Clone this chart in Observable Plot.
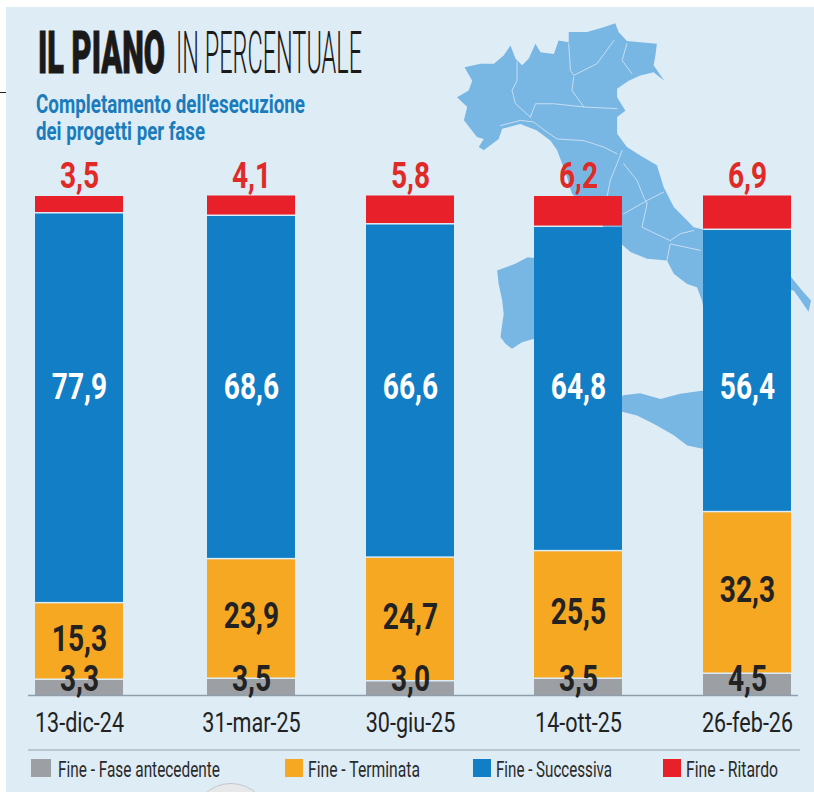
<!DOCTYPE html>
<html lang="it"><head><meta charset="utf-8">
<script src="https://cdn.jsdelivr.net/npm/d3@7"></script>
<script src="https://cdn.jsdelivr.net/npm/@observablehq/plot@0.6"></script>
<style>
html,body{margin:0;padding:0;background:#fff}
#page{position:relative;width:814px;height:792px;overflow:hidden;font-family:Roboto,"Liberation Sans",sans-serif}
#panel{position:absolute;left:6px;top:7px;right:0;bottom:0;background:#deecf6}
#tick{position:absolute;left:0;top:92px;width:6px;height:1px;background:#222}
#arc{position:absolute;left:192px;top:783px;width:78px;height:78px;border-radius:50%;background:#e6e8ea;border:1px solid #c4c8cc;box-sizing:border-box}
#map,#chart{position:absolute;left:0}
#map{top:0}
#chart{top:150px}
.fit{position:absolute;white-space:nowrap;transform-origin:left center;line-height:1}
#legend-rule{position:absolute;left:28px;width:772px;top:749px;height:2px;background:#b9c7d2}
.sw{position:absolute;top:759px;height:18px;width:20px}
svg{background:transparent;overflow:visible}
</style></head><body>
<div id="page">
  <div id="panel"></div><div id="tick"></div><div id="arc"></div>
  <div id="map"></div>
  <div class="fit" data-w="127" style="left:38px;top:23px;font-size:60px;font-weight:900;color:#1a1a1a;-webkit-text-stroke:1px #1a1a1a">IL PIANO</div>
  <div class="fit" data-w="186" style="left:176px;top:23px;font-size:60px;font-weight:300;color:#1a1a1a">IN PERCENTUALE</div>
  <div class="fit" data-w="269" style="left:36px;top:92px;font-size:25px;font-weight:700;color:#1a7cbc">Completamento dell'esecuzione</div>
  <div class="fit" data-w="169" style="left:36px;top:119px;font-size:25px;font-weight:700;color:#1a7cbc">dei progetti per fase</div>
  <div id="chart"></div>
  <div id="legend-rule"></div>
  <div id="legend"></div>
</div>
<script>
// Chart data
const dates = ["13-dic-24", "31-mar-25", "30-giu-25", "14-ott-25", "26-feb-26"];
const phases = ["Fine - Fase antecedente", "Fine - Terminata", "Fine - Successiva", "Fine - Ritardo"];
const phaseColors = ["#9c9fa4", "#f7a823", "#117ec6", "#e8202a"];
const antecedente = [3.3, 3.5, 3.0, 3.5, 4.5];
const terminata = [15.3, 23.9, 24.7, 25.5, 32.3];
const successiva = [77.9, 68.6, 66.6, 64.8, 56.4];
const ritardo = [3.5, 4.1, 5.8, 6.2, 6.9];

// Italy traced as [lon, lat]
const mainland = [[6.84,45.99],[7.38,46.08],[7.83,46.08],[8.16,46.28],[8.39,46.53],[8.56,46.20],[8.78,46.04],[9.00,46.20],[9.23,46.57],[9.40,46.36],[9.85,46.32],[10.01,46.65],[10.35,46.61],[10.35,46.86],[10.97,46.86],[11.53,46.98],[11.92,47.08],[12.03,46.86],[12.31,46.64],[13.32,46.57],[13.27,46.28],[13.21,46.04],[13.57,45.66],[13.21,45.87],[12.76,45.79],[12.37,45.66],[11.98,45.46],[11.98,45.25],[12.26,44.92],[11.98,44.76],[11.98,44.35],[12.31,44.02],[12.76,43.81],[13.32,43.57],[13.55,43.03],[13.89,42.54],[14.56,42.04],[15.01,41.96],[15.79,41.88],[15.91,41.51],[17.84,40.81],[18.21,40.48],[18.51,40.23],[18.43,39.95],[18.21,40.19],[17.93,40.48],[17.25,40.54],[16.80,40.40],[16.13,39.74],[15.68,39.00],[15.01,38.92],[14.95,39.82],[14.84,40.23],[14.67,40.56],[14.34,40.64],[13.89,40.89],[13.66,41.22],[12.99,41.26],[12.43,41.43],[12.18,41.59],[11.53,42.04],[10.97,42.54],[10.46,42.87],[10.29,43.28],[10.13,43.61],[9.96,43.94],[9.73,44.18],[9.28,44.43],[8.72,44.59],[8.11,44.47],[7.99,44.22],[7.49,43.94],[7.32,44.02],[7.49,44.22],[7.26,44.27],[6.82,44.68],[6.93,45.01],[6.59,45.25],[6.98,45.42],[7.10,45.66]];
const sardinia = [[7.94,40.97],[8.55,41.14],[8.97,41.30],[9.40,41.26],[9.90,40.97],[9.96,40.23],[9.73,39.41],[9.21,39.29],[8.78,39.20],[8.44,39.04],[8.22,39.16],[8.05,39.33],[8.16,39.90],[8.11,40.23],[7.99,40.64]];
const sicily = [[11.98,37.72],[12.18,37.89],[12.76,37.94],[13.44,37.80],[14.11,37.93],[14.90,38.01],[15.79,37.97],[15.57,37.11],[15.23,36.57],[14.87,36.57],[14.34,36.65],[13.89,36.90],[13.21,37.19],[12.65,37.39],[12.18,37.48],[11.92,37.60]];
const regionBorders = [
  [[8.61,46.12],[8.61,45.66],[8.44,45.42],[8.56,45.09],[9.06,44.76]],
  [[10.52,45.75],[10.46,45.42],[10.86,45.01]],
  [[9.06,44.76],[9.23,45.09],[9.85,45.09],[10.86,45.01],[11.98,44.97]],
  [[10.35,46.57],[10.41,45.91],[10.52,45.79],[11.30,46.08],[11.87,46.65]],
  [[12.31,46.57],[12.15,46.16],[12.48,45.83]],
  [[8.05,44.55],[8.72,44.68],[9.17,44.64],[9.62,44.39]],
  [[9.62,44.39],[9.96,44.22],[10.86,44.18],[11.53,44.02],[11.98,43.85]],
  [[12.15,43.94],[11.98,43.61],[11.75,43.20],[11.64,42.78]],
  [[12.20,43.61],[12.65,43.20],[12.88,42.78],[12.99,42.62]],
  [[12.20,42.37],[12.99,42.70],[13.55,42.91]],
  [[12.99,42.62],[12.82,42.04],[13.77,41.71]],
  [[13.77,41.71],[14.11,41.88],[14.56,41.96]],
  [[13.66,41.22],[13.77,41.63],[14.78,41.47]]
];

const withPart = (parts) => parts.flatMap((pts, part) => pts.map(([lon, lat]) => ({lon, lat, part})));

// Background map
document.getElementById("map").append(Plot.plot({
  width: 814, height: 792, margin: 0,
  x: {domain: [-8.79, 18.63], axis: null},
  y: {domain: [28.08, 47.64], axis: null},
  marks: [
    Plot.line(withPart([mainland, sardinia, sicily]), {x: "lon", y: "lat", z: "part", fill: "#78b6e4", stroke: "none"}),
    Plot.line(withPart(regionBorders), {x: "lon", y: "lat", z: "part", stroke: "#c6def2", strokeWidth: 1})
  ]
}));

// Stacked bars
const series = [antecedente, terminata, successiva, ritardo];
const rows = series.flatMap((vals, s) => vals.map((value, i) => ({i, value, phase: phases[s]})));
const col = (vals) => vals.map((value, i) => ({i, value, mid: antecedente[i] + (vals === terminata ? value / 2 : 0)}));
const family = "Roboto";
const labelStyle = {x: d => d.i + 0.25, text: d => d.value.toFixed(1).replace(".", ","), fontFamily: family, fontWeight: 700, fontSize: 37, lineAnchor: "middle"};

const chart = Plot.plot({
  width: 814, height: 600,
  marginTop: 44.5, marginBottom: 55, marginLeft: 28, marginRight: 16,
  x: {type: "linear", domain: [0,.5,1,1.5,2,2.5,3,3.5,4,4.5], range: [35,123,207,295,366,454,534,622,703,791], axis: null},
  y: {domain: [0, 100], axis: null},
  color: {domain: phases, range: phaseColors},
  marks: [
    Plot.rectY(rows, {x1: "i", x2: d => d.i + 0.5, y: "value", fill: "phase", order: phases, insetTop: 1.5}),
    Plot.ruleY([0], {stroke: "#8f9eaa", strokeWidth: 1.5}),
    Plot.axisX(dates.map((d, i) => i + 0.25), {tickSize: 0, tickPadding: 17, tickFormat: t => dates[Math.floor(t)], fontSize: 28, fontFamily: family, fill: "#222", anchor: "bottom", label: null}),
    Plot.text(col(ritardo), {...labelStyle, y: () => 100, dy: -19, fill: "#df2a26"}),
    Plot.text(col(successiva), {...labelStyle, y: () => 61.6, fill: "#fff"}),
    Plot.text(col(terminata), {...labelStyle, y: "mid", dy: -2, fill: "#222"}),
    Plot.text(col(antecedente), {...labelStyle, y: () => 3.3, fill: "#222"})
  ]
});
document.getElementById("chart").append(chart);

// Narrow the SVG labels to the condensed look of the reference
const squeeze = (selector, ratio) => chart.querySelectorAll(selector).forEach(t => {
  t.setAttribute("lengthAdjust", "spacingAndGlyphs");
  t.setAttribute("textLength", t.getComputedTextLength() * ratio);
});
squeeze('[aria-label="x-axis tick label"] text', 0.77);
squeeze('[aria-label="text"] text', 0.76);

// Legend
const legendPos = [[31, 58, 162], [285, 308, 112], [473, 496, 116], [663, 686, 92]];
const legend = document.getElementById("legend");
phases.forEach((p, k) => {
  const [sx, tx, tw] = legendPos[k];
  const sw = document.createElement("div");
  sw.className = "sw"; sw.style.left = sx + "px"; sw.style.background = phaseColors[k];
  sw.style.width = (k === 0 ? 20 : 18) + "px";
  const t = document.createElement("div");
  t.className = "fit"; t.textContent = p; t.dataset.w = tw;
  t.style.cssText = `left:${tx}px;top:759px;font-size:22px;color:#2a2a2a`;
  legend.append(sw, t);
});

// Fit headline and legend texts to their measured widths
document.querySelectorAll(".fit").forEach(el => {
  el.style.transform = `scaleX(${+el.dataset.w / el.getBoundingClientRect().width})`;
});
</script>
</body></html>
